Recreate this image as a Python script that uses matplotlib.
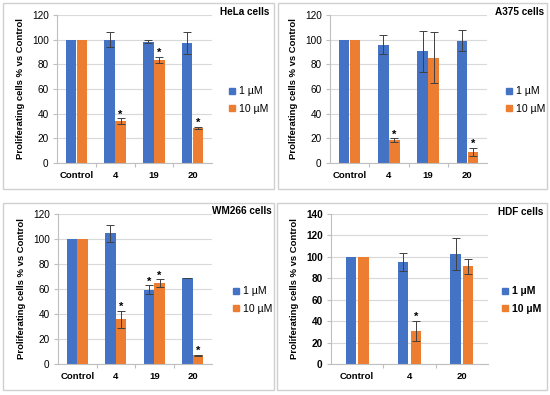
import numpy as np
import matplotlib
matplotlib.use("Agg")
import matplotlib.pyplot as plt
from matplotlib.patches import Rectangle
from matplotlib.lines import Line2D

plt.rcParams["font.family"] = ["Liberation Sans", "DejaVu Sans"]

# ── data ─────────────────────────────────────────────────────────────────────
hela_cats = ["Control", "4", "19", "20"]
hela_1 = [100, 100, 98.5, 97]
hela_1_err = [0, 6.3, 1, 9]
hela_10 = [100, 34, 83.5, 28.5]
hela_10_err = [0, 2.2, 2.8, 1]
hela_star_1 = [False, False, False, False]
hela_star_10 = [False, True, True, True]

a375_cats = ["Control", "4", "19", "20"]
a375_1 = [100, 96, 90.5, 99]
a375_1_err = [0, 7.5, 16.5, 8.5]
a375_10 = [100, 18.5, 85.5, 9]
a375_10_err = [0, 1.5, 20.5, 3.5]
a375_star_1 = [False, False, False, False]
a375_star_10 = [False, True, False, True]

wm_cats = ["Control", "4", "19", "20"]
wm_1 = [100, 104.5, 59.5, 68.8]
wm_1_err = [0, 6.7, 3.5, 0.3]
wm_10 = [100, 35.8, 64.8, 7]
wm_10_err = [0, 7, 3, 0.5]
wm_star_1 = [False, False, True, False]
wm_star_10 = [False, True, True, True]

hdf_cats = ["Control", "4", "20"]
hdf_1 = [100, 95.3, 103]
hdf_1_err = [0, 8.4, 15]
hdf_10 = [100, 31, 91.3]
hdf_10_err = [0, 9.6, 7]
hdf_star_1 = [False, False, False]
hdf_star_10 = [False, True, False]

BLUE = "#4472C4"
ORANGE = "#ED7D31"
W, H = 550, 395

fig = plt.figure(figsize=(5.5, 3.95), dpi=100)


def px_box(x0, y0, x1, y1):
    """pixel box (top-left origin) -> figure fraction rect"""
    return [x0 / W, 1 - y1 / H, (x1 - x0) / W, (y1 - y0) / H]


def panel(frame, axbox, cats, v1, e1, v10, e10, s1, s10, ymax, title, title_xy,
          leg_x, leg_y, width, off, bold=False):
    # light grey frame around each panel
    fig.patches.append(Rectangle((frame[0], frame[1]), frame[2], frame[3],
                                 transform=fig.transFigure, fill=False,
                                 edgecolor="#d0d0d0", lw=1))
    ax = fig.add_axes(px_box(*axbox))
    x = np.arange(len(cats))
    for vals, errs, stars, col, dx in [(v1, e1, s1, BLUE, -off), (v10, e10, s10, ORANGE, off)]:
        ax.bar(x + dx, vals, width, color=col, zorder=2)
        errs = np.array(errs)
        m = errs > 0
        ax.errorbar((x + dx)[m], np.array(vals)[m], yerr=errs[m], fmt="none",
                    ecolor="#404040", elinewidth=0.7, capsize=2.8, capthick=0.7, zorder=3)
        for xi, v, e, s in zip(x + dx, vals, errs, stars):
            if s:
                ax.annotate("*", (xi, v + e), xytext=(0, -1), textcoords="offset points",
                            ha="center", va="bottom", fontsize=8, fontweight="bold")
    ax.set_xlim(-0.5, len(cats) - 0.5)
    ax.set_ylim(0, ymax)
    ax.set_yticks(np.arange(0, ymax + 1, 20))
    ax.set_xticks(x)
    ax.set_xticklabels(cats, fontweight="bold", fontsize=6.8)
    ax.set_xticks(np.arange(0.5, len(cats) - 0.5, 1), minor=True)
    ax.tick_params(axis="x", which="major", length=0, pad=6)
    ax.tick_params(axis="x", which="minor", length=3, color="#bfbfbf", width=0.8)
    ax.tick_params(axis="y", length=3, color="#bfbfbf", width=0.8, labelsize=7.2, pad=3)
    if bold:
        for t in ax.get_yticklabels():
            t.set_fontweight("bold")
    ax.grid(axis="y", color="#d9d9d9", lw=0.8, zorder=0)
    ax.set_axisbelow(True)
    for sp in ["top", "right"]:
        ax.spines[sp].set_visible(False)
    for sp in ["left", "bottom"]:
        ax.spines[sp].set_color("#bfbfbf")
        ax.spines[sp].set_linewidth(0.8)
    ax.set_ylabel("Proliferating cells % vs Control", fontweight="bold", fontsize=6.8, labelpad=5)
    fig.text(title_xy[0] / W, 1 - title_xy[1] / H, title, ha="right", va="center",
             fontsize=7.2, fontweight="bold")
    handles = [Line2D([], [], ls="", marker="s", ms=4.5, color=BLUE),
               Line2D([], [], ls="", marker="s", ms=4.5, color=ORANGE)]
    fig.legend(handles, ["1 µM", "10 µM"], loc="upper left",
               bbox_to_anchor=(leg_x / W, 1 - leg_y / H), frameon=False,
               handlelength=0.5, handletextpad=0.4, labelspacing=0.7, borderpad=0,
               prop={"size": 7.6, "weight": "bold" if bold else "normal"})
    return ax


panel(px_box(3, 3, 274, 189), (57, 15, 212, 163), hela_cats, hela_1, hela_1_err,
      hela_10, hela_10_err, hela_star_1, hela_star_10, 120, "HeLa cells", (269, 12),
      224, 81, 0.27, 0.14)
panel(px_box(278, 3, 547, 189), (330, 15, 487, 163), a375_cats, a375_1, a375_1_err,
      a375_10, a375_10_err, a375_star_1, a375_star_10, 120, "A375 cells", (544, 12),
      501, 81, 0.27, 0.14)
panel(px_box(3, 203, 274, 390), (58, 214, 212, 364), wm_cats, wm_1, wm_1_err,
      wm_10, wm_10_err, wm_star_1, wm_star_10, 120, "WM266 cells", (272, 211),
      228, 281, 0.27, 0.14)
panel(px_box(277, 203, 547, 390), (331, 214, 488, 364), hdf_cats, hdf_1, hdf_1_err,
      hdf_10, hdf_10_err, hdf_star_1, hdf_star_10, 140, "HDF cells", (543, 212),
      497, 281, 0.2, 0.12, bold=True)

fig.savefig("out.png", dpi=100)
